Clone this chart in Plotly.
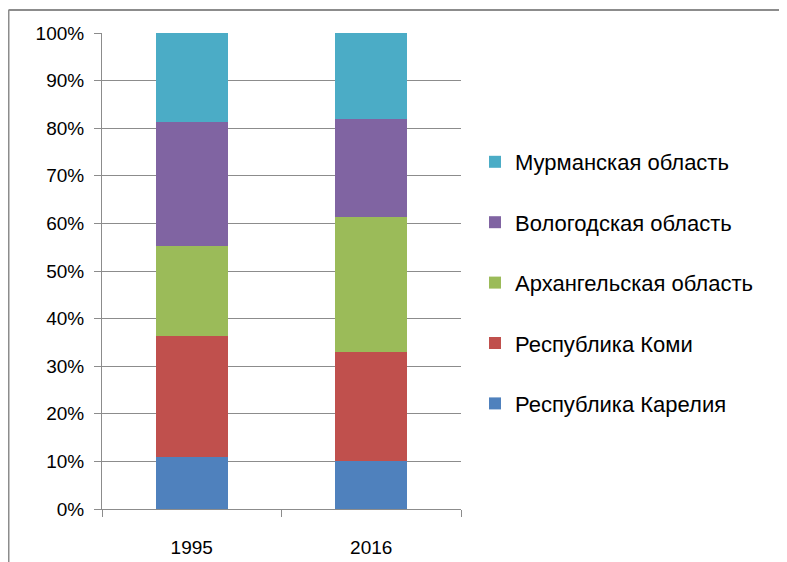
import plotly.graph_objects as go

years = ["1995", "2016"]
regions = [
    "Республика Карелия",
    "Республика Коми",
    "Архангельская область",
    "Вологодская область",
    "Мурманская область",
]
shares = {
    "Республика Карелия": [10.9, 10.0],
    "Республика Коми": [25.5, 22.9],
    "Архангельская область": [18.9, 28.5],
    "Вологодская область": [25.9, 20.6],
    "Мурманская область": [18.8, 18.0],
}
colors = ["#4F81BD", "#C0504D", "#9BBB59", "#8064A2", "#4BACC6"]

# page body adds an 8px offset, so work in figure coords = screen - 8
W, H = 787, 562
L, T = 94, 25
pw, ph = 359, 476
R, B = W - L - pw, H - T - ph

fig = go.Figure()
for i, (name, col) in enumerate(zip(regions, colors)):
    fig.add_trace(go.Bar(
        x=years, y=shares[name], name=name, legendgroup=name,
        legendrank=len(regions) - i,
        marker=dict(color=col, line=dict(width=0)),
    ))

grid = "#8c8c8c"
fig.update_layout(
    width=W, height=H,
    margin=dict(l=L, r=R, t=T, b=B),
    barmode="stack", barnorm="percent", bargap=0.6,
    plot_bgcolor="white", paper_bgcolor="white",
    font=dict(family="Liberation Sans, Arial", size=19, color="black"),
    legend=dict(
        traceorder="grouped", tracegroupgap=28.8,
        x=(467 - L) / pw, xanchor="left",
        y=1 + (T - 133) / ph, yanchor="top",
        font=dict(size=22), itemwidth=30,
    ),
    xaxis=dict(
        showline=True, linecolor=grid, linewidth=1,
        ticks="outside", tickson="boundaries", ticklen=7, tickcolor=grid,
        showgrid=False, ticklabelstandoff=21,
    ),
    yaxis=dict(
        range=[0, 100], dtick=10, ticksuffix="%",
        showline=True, linecolor=grid, linewidth=1,
        ticks="outside", ticklen=7, tickcolor=grid,
        showgrid=True, gridcolor=grid, gridwidth=1,
        zeroline=False, ticklabelstandoff=6,
    ),
)

# outer frame (only top and left edges visible)
x0 = (0.5 - L) / pw
y0 = 1 + (T - 2) / ph
fig.add_shape(type="line", xref="paper", yref="paper",
              x0=x0, x1=(W - L) / pw, y0=y0, y1=y0,
              line=dict(color="#8c8c8c", width=2))
fig.add_shape(type="line", xref="paper", yref="paper",
              x0=x0, x1=x0, y0=y0, y1=-0.2,
              line=dict(color="#8c8c8c", width=2))

fig.write_html("out.html")
